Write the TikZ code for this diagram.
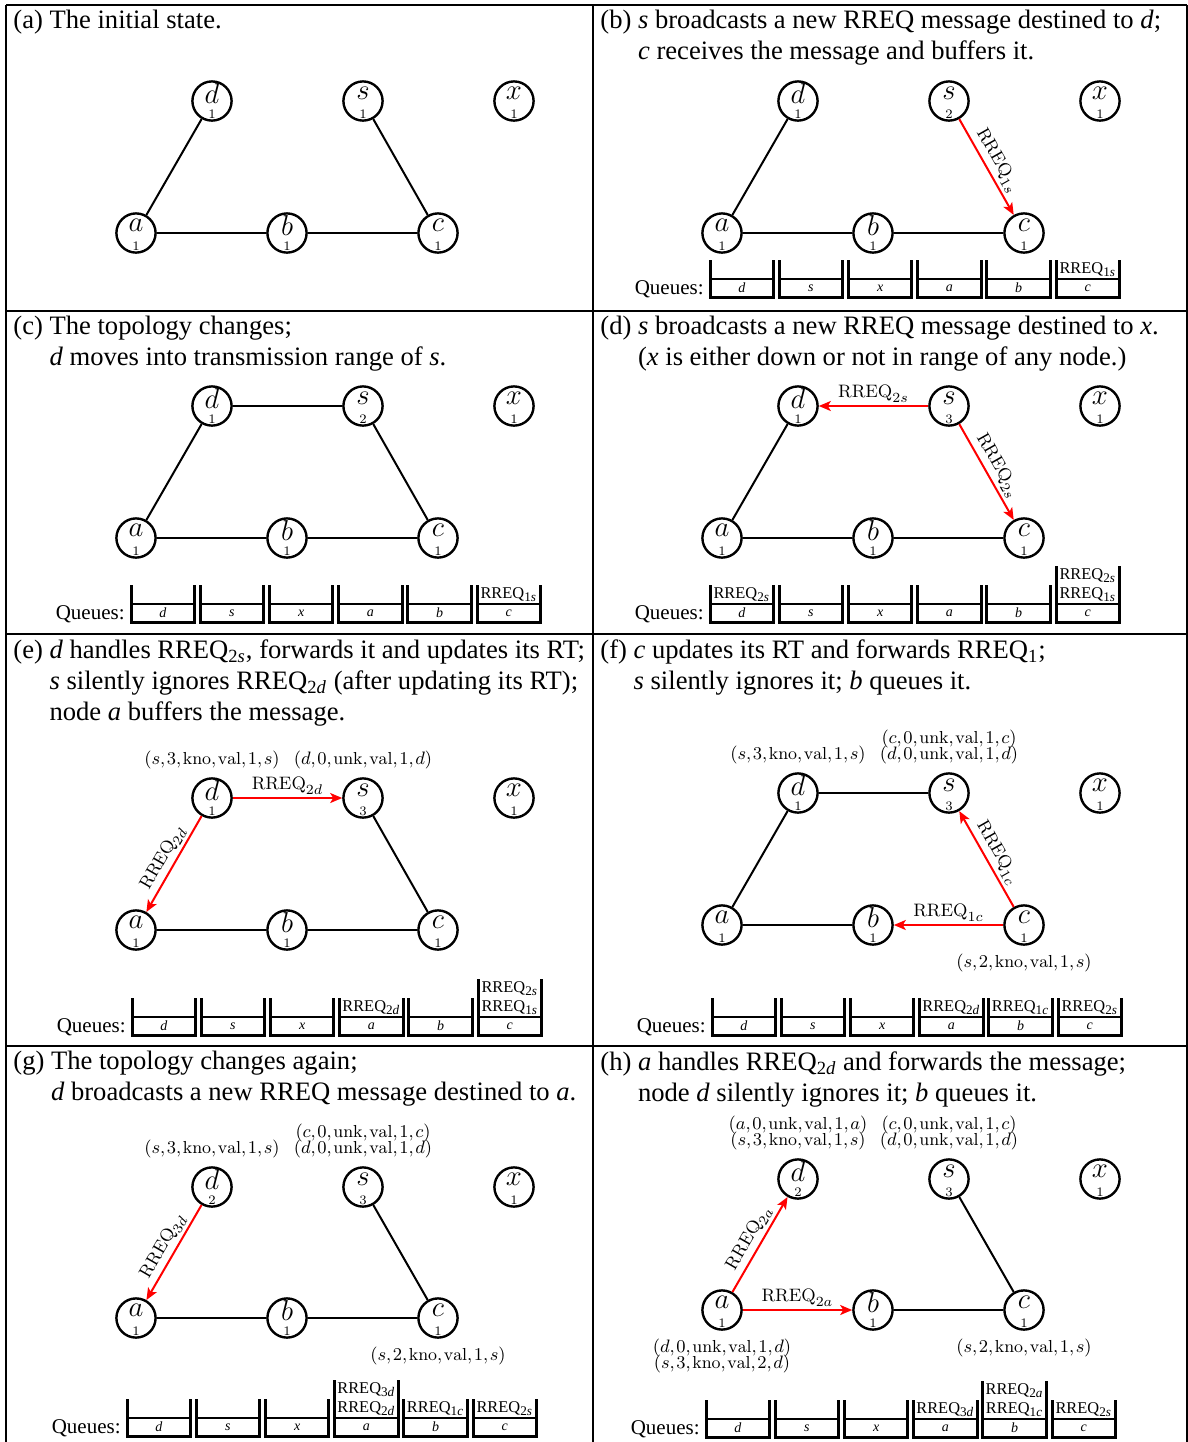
\documentclass[tikz,border=0pt]{standalone}
\usepackage{fontspec}
\newfontfamily\timesfont{Liberation Serif}
\usetikzlibrary{arrows.meta}

% network node: name, x, y, letter, number
\newcommand{\netnode}[5]{%
  \node[netnode] (#1) at (#2,#3) {};
  \node[nodelab] (#1t) at (#2,#3-7.5) {$#4$};
  \node[nodenum] (#1n) at (#2,#3+13.5) {#5};
}
% queue box: name, first x, bottom, index, label, slots, messages
\newcommand{\qbox}[7]{%
  \draw[qside] (#2+69.2*#4,#3-18-19*#6) -- (#2+69.2*#4,#3) -- (#2+69.2*#4+63.5,#3) -- (#2+69.2*#4+63.5,#3-18-19*#6);
  \draw[qmid] (#2+69.2*#4,#3-18) -- (#2+69.2*#4+63.5,#3-18);
  \node[qlab] (#1) at (#2+69.2*#4+31.75,#3-9) {#5};
  \node[qmsg] (#1m) at (#2+69.2*#4+31.75,#3-18-9.5*#6) {#7};
}
\newcommand{\rreq}[2]{RREQ\textsubscript{#1\textit{#2}}}
\newcommand{\qrreq}[2]{RREQ$_{\mbox{\fontsize{6.6}{7}\selectfont #1\textit{#2}}}$}
\newcommand{\mrreq}[1]{$\mathrm{RREQ}_{\mbox{\fontsize{7.2}{8}\selectfont$#1$}}$}
\newcommand{\rc}{{,}\mskip1.5mu}
\newcommand{\rte}[6]{$(#1\rc#2\rc\mathrm{#3}\rc\mathrm{#4}\rc#5\rc#6)$}

\begin{document}
\begin{tikzpicture}[x=0.5pt,y=-0.5pt,
  netnode/.style={circle,draw,line width=1.2pt,minimum size=19.6pt,inner sep=0pt},
  nodelab/.style={inner sep=0pt,font=\fontsize{14.4}{16}\selectfont},
  nodenum/.style={inner sep=0pt,font=\fontsize{6.5}{7}\selectfont},
  link/.style={line width=1pt},
  msg/.style={red,line width=1pt,-{Stealth[length=6pt,width=5pt,inset=1.5pt]}},
  msglab/.style={inner sep=1.5pt,text=black,font=\fontsize{9}{10}\selectfont},
  rt/.style={inner sep=0pt,align=center,font={\fontsize{8.7}{8}\selectfont\lineskiplimit=-10pt}},
  captxt/.style={inner sep=0pt,anchor=north west,align=left,font=\timesfont\fontsize{13.3}{15.5}\selectfont},
  qtext/.style={inner sep=0pt,anchor=base east,font=\timesfont\fontsize{10.5}{12}\selectfont},
  qmsg/.style={inner sep=0pt,align=center,font=\timesfont\fontsize{8.2}{9.5}\selectfont},
  qlab/.style={inner sep=0pt,font=\timesfont\itshape\fontsize{7}{8}\selectfont},
  qside/.style={line width=1.5pt},
  qmid/.style={line width=0.9pt},
  panelline/.style={line width=1pt}]
\useasboundingbox (0,0) rectangle (1188,1442);

%Frame
\draw[panelline] (6,5) -- (1187,5);
\draw[panelline] (6,5) -- (6,1442);
\draw[panelline] (593,5) -- (593,1442);
\draw[panelline] (1187,5) -- (1187,1442);
\draw[panelline] (6,311) -- (1187,311);
\draw[panelline] (6,634) -- (1187,634);
\draw[panelline] (6,1046) -- (1187,1046);

% ---------- (a)
\node[captxt] (Acap) at (13,10) {(a) The initial state.};
\netnode{Aa}{136}{233}{a}{1}
\netnode{Ab}{287}{233}{b}{1}
\netnode{Ac}{438}{233}{c}{1}
\netnode{Ad}{212}{101}{d}{1}
\netnode{As}{363}{101}{s}{1}
\netnode{Ax}{514}{101}{x}{1}
\draw[link] (Aa) -- (Ad);
\draw[link] (Aa) -- (Ab);
\draw[link] (Ab) -- (Ac);
\draw[link] (As) -- (Ac);

% ---------- (b)
\node[captxt] (Bcap) at (600,10) {(b) \textit{s} broadcasts a new RREQ message destined to \textit{d};\\\hphantom{(b)~}\textit{c} receives the message and buffers it.};
\netnode{Ba}{722}{233}{a}{1}
\netnode{Bb}{873}{233}{b}{1}
\netnode{Bc}{1024}{233}{c}{1}
\netnode{Bd}{798}{101}{d}{1}
\netnode{Bs}{949}{101}{s}{2}
\netnode{Bx}{1100}{101}{x}{1}
\draw[link] (Ba) -- (Bd);
\draw[link] (Ba) -- (Bb);
\draw[link] (Bb) -- (Bc);
\draw[msg] (Bs) -- node[msglab,above,sloped] {\mrreq{1s}} (Bc);
% Queues
\node[qtext] (Bq) at (704,294) {Queues:};
\qbox{Bqd}{710}{297}{0}{d}{1}{}
\qbox{Bqs}{710}{297}{1}{s}{1}{}
\qbox{Bqx}{710}{297}{2}{x}{1}{}
\qbox{Bqa}{710}{297}{3}{a}{1}{}
\qbox{Bqb}{710}{297}{4}{b}{1}{}
\qbox{Bqc}{710}{297}{5}{c}{1}{\qrreq{1}{s}}

% ---------- (c)
\node[captxt] (Ccap) at (13,316) {(c) The topology changes;\\\hphantom{(c)~}\textit{d} moves into transmission range of \textit{s}.};
\netnode{Ca}{136}{538}{a}{1}
\netnode{Cb}{287}{538}{b}{1}
\netnode{Cc}{438}{538}{c}{1}
\netnode{Cd}{212}{406}{d}{1}
\netnode{Cs}{363}{406}{s}{2}
\netnode{Cx}{514}{406}{x}{1}
\draw[link] (Ca) -- (Cd);
\draw[link] (Cd) -- (Cs);
\draw[link] (Cs) -- (Cc);
\draw[link] (Ca) -- (Cb);
\draw[link] (Cb) -- (Cc);
% Queues
\node[qtext] (Cq) at (125,619) {Queues:};
\qbox{Cqd}{131}{622}{0}{d}{1}{}
\qbox{Cqs}{131}{622}{1}{s}{1}{}
\qbox{Cqx}{131}{622}{2}{x}{1}{}
\qbox{Cqa}{131}{622}{3}{a}{1}{}
\qbox{Cqb}{131}{622}{4}{b}{1}{}
\qbox{Cqc}{131}{622}{5}{c}{1}{\qrreq{1}{s}}

% ---------- (d)
\node[captxt] (Dcap) at (600,316) {(d) \textit{s} broadcasts a new RREQ message destined to \textit{x}.\\\hphantom{(d)~}(\textit{x} is either down or not in range of any node.)};
\netnode{Da}{722}{538}{a}{1}
\netnode{Db}{873}{538}{b}{1}
\netnode{Dc}{1024}{538}{c}{1}
\netnode{Dd}{798}{406}{d}{1}
\netnode{Ds}{949}{406}{s}{3}
\netnode{Dx}{1100}{406}{x}{1}
\draw[link] (Da) -- (Dd);
\draw[link] (Da) -- (Db);
\draw[link] (Db) -- (Dc);
\draw[msg] (Ds) -- node[msglab,above] {\mrreq{2s}} (Dd);
\draw[msg] (Ds) -- node[msglab,above,sloped] {\mrreq{2s}} (Dc);
% Queues
\node[qtext] (Dq) at (704,619) {Queues:};
\qbox{Dqd}{710}{622}{0}{d}{1}{\qrreq{2}{s}}
\qbox{Dqs}{710}{622}{1}{s}{1}{}
\qbox{Dqx}{710}{622}{2}{x}{1}{}
\qbox{Dqa}{710}{622}{3}{a}{1}{}
\qbox{Dqb}{710}{622}{4}{b}{1}{}
\qbox{Dqc}{710}{622}{5}{c}{2}{\qrreq{2}{s}\\\qrreq{1}{s}}

% ---------- (e)
\node[captxt] (Ecap) at (13,639) {(e) \textit{d} handles \rreq{2}{s}, forwards it and updates its RT;\\\hphantom{(e)~}\textit{s} silently ignores \rreq{2}{d} (after updating its RT);\\\hphantom{(e)~}node \textit{a} buffers the message.};
\netnode{Ea}{136}{930}{a}{1}
\netnode{Eb}{287}{930}{b}{1}
\netnode{Ec}{438}{930}{c}{1}
\netnode{Ed}{212}{798}{d}{1}
\netnode{Es}{363}{798}{s}{3}
\netnode{Ex}{514}{798}{x}{1}
\draw[link] (Ea) -- (Eb);
\draw[link] (Eb) -- (Ec);
\draw[link] (Es) -- (Ec);
\draw[msg] (Ed) -- node[msglab,above] {\mrreq{2d}} (Es);
\draw[msg] (Ed) -- node[msglab,above,sloped] {\mrreq{2d}} (Ea);
% Routing tables
\node[rt,anchor=south] (Edrt) at (212,769) {\rte{s}{3}{kno}{val}{1}{s}};
\node[rt,anchor=south] (Esrt) at (363,769) {\rte{d}{0}{unk}{val}{1}{d}};
% Queues
\node[qtext] (Eq) at (126,1032) {Queues:};
\qbox{Eqd}{132}{1035}{0}{d}{1}{}
\qbox{Eqs}{132}{1035}{1}{s}{1}{}
\qbox{Eqx}{132}{1035}{2}{x}{1}{}
\qbox{Eqa}{132}{1035}{3}{a}{1}{\qrreq{2}{d}}
\qbox{Eqb}{132}{1035}{4}{b}{1}{}
\qbox{Eqc}{132}{1035}{5}{c}{2}{\qrreq{2}{s}\\\qrreq{1}{s}}

% ---------- (f)
\node[captxt] (Fcap) at (600,639) {(f) \textit{c} updates its RT and forwards \rreq{1}{};\\\hphantom{(f)~}\textit{s} silently ignores it; \textit{b} queues it.};
\netnode{Fa}{722}{925}{a}{1}
\netnode{Fb}{873}{925}{b}{1}
\netnode{Fc}{1024}{925}{c}{1}
\netnode{Fd}{798}{793}{d}{1}
\netnode{Fs}{949}{793}{s}{3}
\netnode{Fx}{1100}{793}{x}{1}
\draw[link] (Fa) -- (Fd);
\draw[link] (Fd) -- (Fs);
\draw[link] (Fa) -- (Fb);
\draw[msg] (Fc) -- node[msglab,above,sloped] {\mrreq{1c}} (Fs);
\draw[msg] (Fc) -- node[msglab,above] {\mrreq{1c}} (Fb);
% Routing tables
\node[rt,anchor=south] (Fdrt) at (798,764) {\rte{s}{3}{kno}{val}{1}{s}};
\node[rt,anchor=south] (Fsrt) at (949,764) {\rte{c}{0}{unk}{val}{1}{c}\\\rte{d}{0}{unk}{val}{1}{d}};
\node[rt,anchor=north] (Fcrt) at (1024,954) {\rte{s}{2}{kno}{val}{1}{s}};
% Queues
\node[qtext] (Fq) at (706,1032) {Queues:};
\qbox{Fqd}{712}{1035}{0}{d}{1}{}
\qbox{Fqs}{712}{1035}{1}{s}{1}{}
\qbox{Fqx}{712}{1035}{2}{x}{1}{}
\qbox{Fqa}{712}{1035}{3}{a}{1}{\qrreq{2}{d}}
\qbox{Fqb}{712}{1035}{4}{b}{1}{\qrreq{1}{c}}
\qbox{Fqc}{712}{1035}{5}{c}{1}{\qrreq{2}{s}}

% ---------- (g)
\node[captxt] (Gcap) at (13,1051) {(g) The topology changes again;\\\hphantom{(g)~}\textit{d} broadcasts a new RREQ message destined to \textit{a}.};
\netnode{Ga}{136}{1318}{a}{1}
\netnode{Gb}{287}{1318}{b}{1}
\netnode{Gc}{438}{1318}{c}{1}
\netnode{Gd}{212}{1187}{d}{2}
\netnode{Gs}{363}{1187}{s}{3}
\netnode{Gx}{514}{1187}{x}{1}
\draw[link] (Ga) -- (Gb);
\draw[link] (Gb) -- (Gc);
\draw[link] (Gs) -- (Gc);
\draw[msg] (Gd) -- node[msglab,above,sloped] {\mrreq{3d}} (Ga);
% Routing tables
\node[rt,anchor=south] (Gdrt) at (212,1158) {\rte{s}{3}{kno}{val}{1}{s}};
\node[rt,anchor=south] (Gsrt) at (363,1158) {\rte{c}{0}{unk}{val}{1}{c}\\\rte{d}{0}{unk}{val}{1}{d}};
\node[rt,anchor=north] (Gcrt) at (438,1347) {\rte{s}{2}{kno}{val}{1}{s}};
% Queues
\node[qtext] (Gq) at (121,1433) {Queues:};
\qbox{Gqd}{127}{1436}{0}{d}{1}{}
\qbox{Gqs}{127}{1436}{1}{s}{1}{}
\qbox{Gqx}{127}{1436}{2}{x}{1}{}
\qbox{Gqa}{127}{1436}{3}{a}{2}{\qrreq{3}{d}\\\qrreq{2}{d}}
\qbox{Gqb}{127}{1436}{4}{b}{1}{\qrreq{1}{c}}
\qbox{Gqc}{127}{1436}{5}{c}{1}{\qrreq{2}{s}}

% ---------- (h)
\node[captxt] (Hcap) at (600,1051) {(h) \textit{a} handles \rreq{2}{d} and forwards the message;\\\hphantom{(h)~}node \textit{d} silently ignores it; \textit{b} queues it.};
\netnode{Ha}{722}{1310}{a}{1}
\netnode{Hb}{873}{1310}{b}{1}
\netnode{Hc}{1024}{1310}{c}{1}
\netnode{Hd}{798}{1179}{d}{2}
\netnode{Hs}{949}{1179}{s}{3}
\netnode{Hx}{1100}{1179}{x}{1}
\draw[link] (Hb) -- (Hc);
\draw[link] (Hs) -- (Hc);
\draw[msg] (Ha) -- node[msglab,above,sloped] {\mrreq{2a}} (Hd);
\draw[msg] (Ha) -- node[msglab,above] {\mrreq{2a}} (Hb);
% Routing tables
\node[rt,anchor=south] (Hdrt) at (798,1150) {\rte{a}{0}{unk}{val}{1}{a}\\\rte{s}{3}{kno}{val}{1}{s}};
\node[rt,anchor=south] (Hsrt) at (949,1150) {\rte{c}{0}{unk}{val}{1}{c}\\\rte{d}{0}{unk}{val}{1}{d}};
\node[rt,anchor=north] (Hart) at (722,1339) {\rte{d}{0}{unk}{val}{1}{d}\\\rte{s}{3}{kno}{val}{2}{d}};
\node[rt,anchor=north] (Hcrt) at (1024,1339) {\rte{s}{2}{kno}{val}{1}{s}};
% Queues
\node[qtext] (Hq) at (700,1434) {Queues:};
\qbox{Hqd}{706}{1437}{0}{d}{1}{}
\qbox{Hqs}{706}{1437}{1}{s}{1}{}
\qbox{Hqx}{706}{1437}{2}{x}{1}{}
\qbox{Hqa}{706}{1437}{3}{a}{1}{\qrreq{3}{d}}
\qbox{Hqb}{706}{1437}{4}{b}{2}{\qrreq{2}{a}\\\qrreq{1}{c}}
\qbox{Hqc}{706}{1437}{5}{c}{1}{\qrreq{2}{s}}

\end{tikzpicture}
\end{document}
